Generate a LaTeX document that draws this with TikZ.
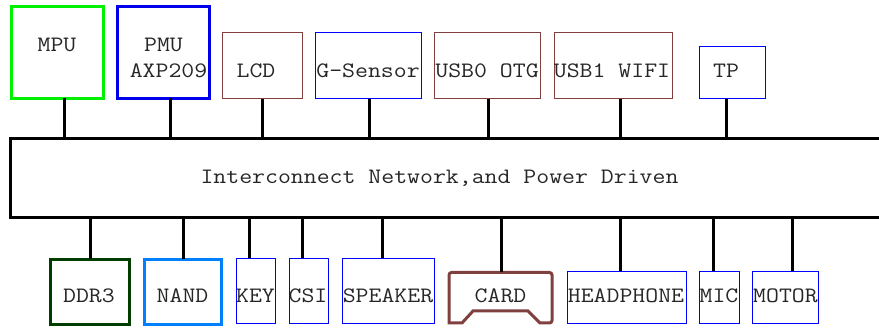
\documentclass[tikz,border=0pt]{standalone}
\usepackage{fontspec}
\newfontfamily\mono[FakeStretch=1.14]{Latin Modern Mono}
\usetikzlibrary{calc}
\definecolor{cgreen}{RGB}{0,240,0}
\definecolor{cblue}{RGB}{0,0,235}
\definecolor{tblue}{RGB}{0,0,255}
\definecolor{cbrown}{RGB}{128,64,64}
\definecolor{cdgreen}{RGB}{0,62,0}
\definecolor{cnand}{RGB}{0,128,255}
\begin{document}
\begin{tikzpicture}[x=1pt,y=-1pt,
  box/.style={draw, line width=1pt, inner sep=0pt, outer sep=0pt},
  thick box/.style={draw, line width=3pt, inner sep=0pt, outer sep=0pt},
  txt/.style={font=\mono\fontsize{22}{26}\selectfont, inner sep=0pt, anchor=base, text=black!85},
  wire/.style={line width=3pt}]
\useasboundingbox (0,0) rectangle (879,328);
\begin{scope}
\clip (0,0) rectangle (879,328);
% bus
\node[thick box, minimum width=874.5pt, minimum height=79.5pt, anchor=north west] (bus) at (10.5,138.5) {};
\node[txt] (tbus) at (439.5,183.2) {Interconnect Network,and Power Driven};
% top boxes
\node[thick box, cgreen, minimum width=92pt, minimum height=92pt, anchor=north west] (mpu) at (11.5,6.5) {};
\node[thick box, cblue, minimum width=92pt, minimum height=92pt, anchor=north west] (pmu) at (117.5,6.5) {};
\node[box, cbrown, minimum width=80pt, minimum height=66.5pt, anchor=north west] (lcd) at (222.5,32.5) {};
\node[box, tblue, minimum width=106pt, minimum height=66.5pt, anchor=north west] (gs) at (315.5,32.5) {};
\node[box, cbrown, minimum width=106pt, minimum height=66.5pt, anchor=north west] (usb0) at (434.5,32.5) {};
\node[box, cbrown, minimum width=118pt, minimum height=66.5pt, anchor=north west] (usb1) at (554.5,32.5) {};
\node[box, tblue, minimum width=66pt, minimum height=52.5pt, anchor=north west] (tp) at (699.5,46.5) {};
\node[txt] (tmpu) at (57,51.2) {MPU};
\node[txt] (tpmu) at (163.5,51.2) {PMU};
\node[txt] (taxp) at (168.5,77.2) {AXP209};
\node[txt] (tlcd) at (256,77.2) {LCD};
\node[txt] (tgs) at (368,77.2) {G-Sensor};
\node[txt] (tusb0) at (487,77.2) {USB0 OTG};
\node[txt] (tusb1) at (612,77.2) {USB1 WIFI};
\node[txt] (ttp) at (726,77.2) {TP};
% bottom boxes
\node[thick box, cdgreen, minimum width=79pt, minimum height=65pt, anchor=north west] (ddr) at (50.5,259.5) {};
\node[thick box, cnand, minimum width=77pt, minimum height=65pt, anchor=north west] (nand) at (144.5,259.5) {};
\node[box, tblue, minimum width=39pt, minimum height=65.5pt, anchor=north west] (key) at (236.5,258.5) {};
\node[box, tblue, minimum width=39pt, minimum height=65.5pt, anchor=north west] (csi) at (289.5,258.5) {};
\node[box, tblue, minimum width=92pt, minimum height=65.5pt, anchor=north west] (spk) at (342.5,258.5) {};
\coordinate (card) at (500.5,272.5);
\draw[cbrown, line width=3pt, rounded corners=2.5pt] (449,323) -- (449,272.5) -- (552,272.5) -- (552,323) [sharp corners] -- (540,323) -- (528,311) -- (473,311) -- (462,323) -- cycle;
\node[box, tblue, minimum width=119pt, minimum height=52.5pt, anchor=north west] (hp) at (567.5,271.5) {};
\node[box, tblue, minimum width=40pt, minimum height=52.5pt, anchor=north west] (mic) at (699.5,271.5) {};
\node[box, tblue, minimum width=66pt, minimum height=52.5pt, anchor=north west] (mot) at (752.5,271.5) {};
\node[txt] (tddr) at (89,302.2) {DDR3};
\node[txt] (tnand) at (182.5,302.2) {NAND};
\node[txt] (tkey) at (255.5,302.2) {KEY};
\node[txt] (tcsi) at (308,302.2) {CSI};
\node[txt] (tspk) at (388,302.2) {SPEAKER};
\node[txt] (tcard) at (500.5,302.2) {CARD};
\node[txt] (thp) at (626,302.2) {HEADPHONE};
\node[txt] (tmic) at (719,302.2) {MIC};
\node[txt] (tmot) at (785.5,302.2) {MOTOR};
% connectors top
\foreach \n/\dx in {mpu/6.5, pmu/6.5, lcd/-0.5, gs/0.5, usb0/0.5, usb1/6.5, tp/-6.5}{
  \draw[wire] ($(\n.south)+(\dx,0)$) coordinate (a) -- (a |- bus.north);
}
% connectors bottom
\foreach \n/\dx in {ddr/0, nand/0, key/-7, csi/-7, spk/-6.5, card/0.5, hp/-7, mic/-6.5, mot/6.5}{
  \draw[wire] ($(\n.north)+(\dx,0)$) coordinate (a) -- (a |- bus.south);
}
\end{scope}
\end{tikzpicture}
\end{document}
